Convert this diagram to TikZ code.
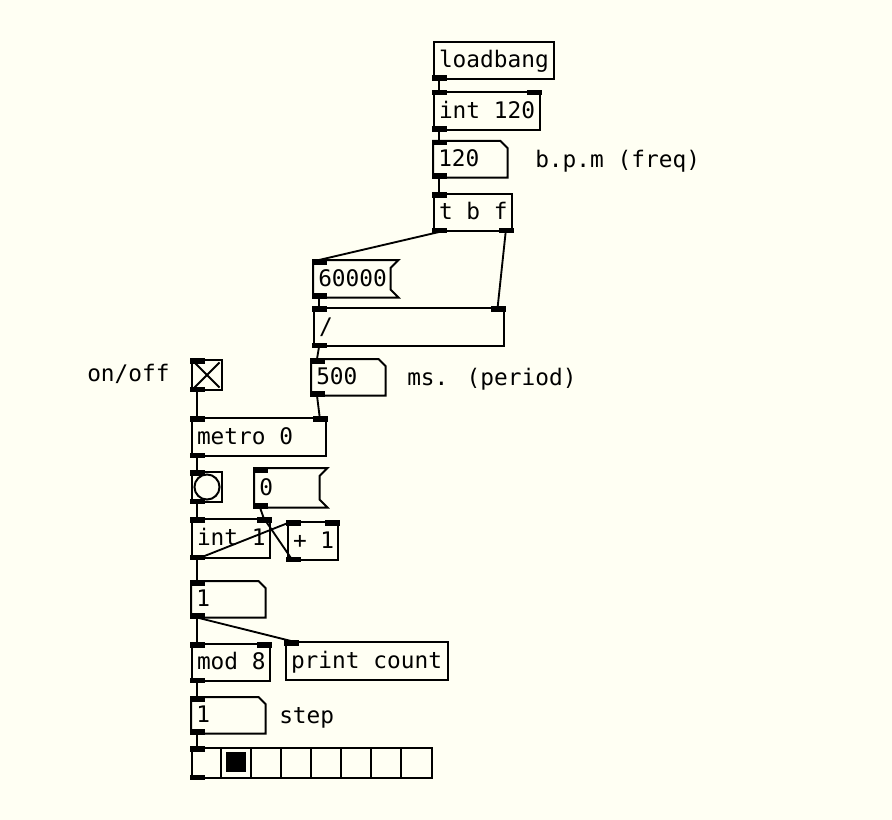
\documentclass[tikz,border=0pt]{standalone}
\usepackage{fontspec}
\setmainfont{DejaVu Sans Mono}
\definecolor{pdbg}{RGB}{255,255,243}
\newcommand\pdnode[7]{%
  \pgfmathsetmacro\pdw{(#5-#3)*0.75}%
  \pgfmathsetmacro\pdh{(#6-#4)*0.75}%
  \pgfmathsetmacro\pdt{max(\pdw-7.5,1)}%
  \node[#1, anchor=north west, minimum width=\pdw pt, minimum height=\pdh pt] (#2) at (#3,#4) {\hbox to \pdt pt{#7\hss}};}
\newcommand\pdin[1]{\fill ([xshift=-0.75pt,yshift=0.75pt]#1.north west) rectangle ++(15,5.5);}
\newcommand\pdinr[1]{\fill ([xshift=0.75pt,yshift=0.75pt]#1.north east) rectangle ++(-15,5.5);}
\newcommand\pdout[1]{\fill ([xshift=-0.75pt,yshift=-0.75pt]#1.south west) rectangle ++(15,-5.5);}
\newcommand\pdoutr[1]{\fill ([xshift=0.75pt,yshift=-0.75pt]#1.south east) rectangle ++(-15,-5.5);}
\newcommand\msgshape[1]{\draw[pdline] (#1.north west) -- ([xshift=6pt]#1.north east) -- ([yshift=-6pt]#1.north east) -- ([yshift=6pt]#1.south east) -- ([xshift=6pt]#1.south east) -- (#1.south west) -- cycle;}
\newcommand\numshape[1]{\draw[pdline] (#1.north west) -- ([xshift=-5.25pt]#1.north east) -- ([yshift=-5.25pt]#1.north east) -- (#1.south east) -- (#1.south west) -- cycle;}
\tikzset{
  pdline/.style={line width=1.5pt, line join=miter},
  pdtext/.style={inner xsep=3.75pt, inner ysep=0pt, text height=14pt, text depth=3pt, font=\fontsize{17.1}{20}\selectfont},
  obj/.style={pdtext, draw, pdline},
  msg/.style={pdtext},
  num/.style={pdtext},
  gui/.style={draw, pdline, inner sep=0pt},
  cord/.style={line width=1.4pt},
  lbl/.style={inner sep=0pt, text height=14pt, text depth=3pt, font=\fontsize{17.1}{20}\selectfont, anchor=west},
}
\begin{document}
\begin{tikzpicture}[x=0.75pt,y=-0.75pt]
\useasboundingbox (0,0) rectangle (892,820);
\fill[pdbg] (0,0) rectangle (892,820);

% objects
\pdnode{obj}{lb}{433}{41}{553}{78}{loadbang}
\pdnode{obj}{i120}{433}{91}{539}{129}{int 120}
\pdnode{num}{n120}{433}{141}{507}{177}{120}
\pdnode{obj}{tbf}{433}{193}{511}{230}{t b f}
\pdnode{msg}{m60k}{313}{260}{390}{297}{60000}
\pdnode{obj}{div}{313}{307}{503}{345}{/}
\pdnode{num}{n500}{311}{359}{385}{395}{500}
\pdnode{gui}{tgl}{191}{359}{221}{389}{}
\pdnode{obj}{metro}{191}{417}{325}{455}{metro 0}
\pdnode{gui}{bng}{191}{471}{221}{501}{}
\pdnode{msg}{m0}{254}{468}{319}{507}{0}
\pdnode{obj}{int1}{191}{518}{269}{557}{int 1}
\pdnode{obj}{plus}{287}{521}{337}{559}{+ 1}
\pdnode{num}{n1}{191}{581}{265}{617}{1}
\pdnode{obj}{mod}{191}{643}{269}{680}{mod 8}
\pdnode{obj}{prt}{285}{641}{447}{679}{print count}
\pdnode{num}{nstep}{191}{697}{265}{733}{1}
\pdnode{gui}{rdo}{191}{747}{431}{777}{}

% shapes
\numshape{n120}
\numshape{n500}
\numshape{n1}
\numshape{nstep}
\msgshape{m60k}
\msgshape{m0}
\draw[pdline] ([shift={(3.5,3.5)}]tgl.north west) -- ([shift={(-3.5,-3.5)}]tgl.south east);
\draw[pdline] ([shift={(-3.5,3.5)}]tgl.north east) -- ([shift={(3.5,-3.5)}]tgl.south west);
\draw[pdline] (bng.center) circle[radius=9.4pt];
\foreach \k in {1,...,7} \draw[pdline] ([xshift=\k*22.5pt]rdo.north west) -- ([xshift=\k*22.5pt]rdo.south west);
\fill ([shift={(35,5)}]rdo.north west) rectangle ([shift={(55,25)}]rdo.north west);

% labels
\node[lbl] (lbpm) at (535,159.7) {b.p.m (freq)};
\node[lbl] (lms) at (407,378.4) {ms. (period)};
\node[lbl] (lonoff) at (87,374.4) {on/off};
\node[lbl] (lstep) at (279,716) {step};

% cords
\draw[cord] ([xshift=4.5pt]lb.south west) -- ([xshift=4.5pt]i120.north west);
\draw[cord] ([xshift=4.5pt]i120.south west) -- ([xshift=4.5pt]n120.north west);
\draw[cord] ([xshift=4.5pt]n120.south west) -- ([xshift=4.5pt]tbf.north west);
\draw[cord] ([xshift=4.5pt]tbf.south west) -- ([xshift=4.5pt]m60k.north west);
\draw[cord] ([xshift=-5.5pt]tbf.south east) -- ([xshift=-5.5pt]div.north east);
\draw[cord] ([xshift=4.5pt]m60k.south west) -- ([xshift=4.5pt]div.north west);
\draw[cord] ([xshift=4.5pt]div.south west) -- ([xshift=4.5pt]n500.north west);
\draw[cord] ([xshift=4.5pt]n500.south west) -- ([xshift=-5.5pt]metro.north east);
\draw[cord] ([xshift=4.5pt]tgl.south west) -- ([xshift=4.5pt]metro.north west);
\draw[cord] ([xshift=4.5pt]metro.south west) -- ([xshift=4.5pt]bng.north west);
\draw[cord] ([xshift=4.5pt]bng.south west) -- ([xshift=4.5pt]int1.north west);
\draw[cord] ([xshift=4.5pt]m0.south west) -- ([xshift=-5.5pt]int1.north east);
\draw[cord] ([xshift=4.5pt]int1.south west) -- ([xshift=4.5pt]plus.north west);
\draw[cord] ([xshift=4.5pt]plus.south west) -- ([xshift=-5.5pt]int1.north east);
\draw[cord] ([xshift=4.5pt]int1.south west) -- ([xshift=4.5pt]n1.north west);
\draw[cord] ([xshift=4.5pt]n1.south west) -- ([xshift=4.5pt]mod.north west);
\draw[cord] ([xshift=4.5pt]n1.south west) -- ([xshift=4.5pt]prt.north west);
\draw[cord] ([xshift=4.5pt]mod.south west) -- ([xshift=4.5pt]nstep.north west);
\draw[cord] ([xshift=4.5pt]nstep.south west) -- ([xshift=4.5pt]rdo.north west);

% iolets
\pdout{lb}
\pdin{i120}\pdinr{i120}\pdout{i120}
\pdin{n120}\pdout{n120}
\pdin{tbf}\pdout{tbf}\pdoutr{tbf}
\pdin{m60k}\pdout{m60k}
\pdin{div}\pdinr{div}\pdout{div}
\pdin{n500}\pdout{n500}
\pdin{tgl}\pdout{tgl}
\pdin{metro}\pdinr{metro}\pdout{metro}
\pdin{bng}\pdout{bng}
\pdin{m0}\pdout{m0}
\pdin{int1}\pdinr{int1}\pdout{int1}
\pdin{plus}\pdinr{plus}\pdout{plus}
\pdin{n1}\pdout{n1}
\pdin{mod}\pdinr{mod}\pdout{mod}
\pdin{prt}
\pdin{nstep}\pdout{nstep}
\pdin{rdo}\pdout{rdo}
\end{tikzpicture}
\end{document}
